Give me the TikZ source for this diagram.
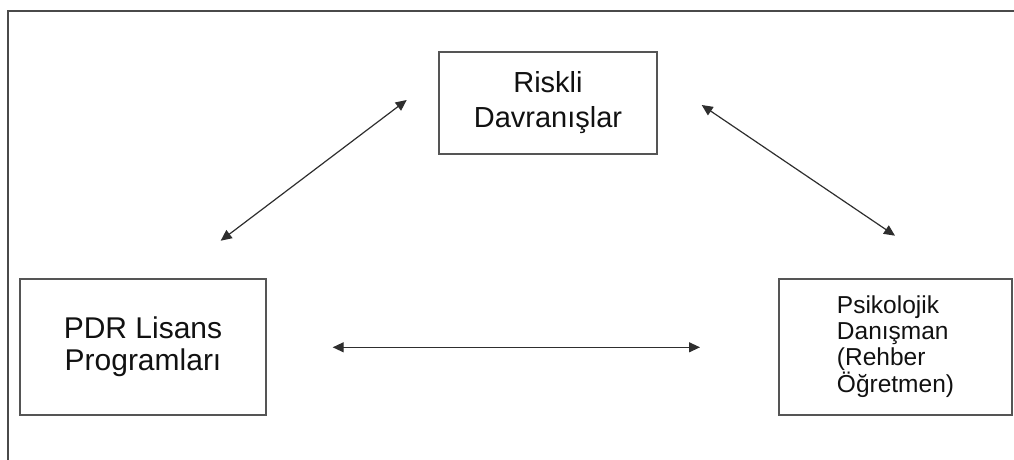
\documentclass[tikz,border=0pt]{standalone}
\usepackage{fontspec}
\setmainfont{Liberation Sans}
\usetikzlibrary{arrows.meta}
\definecolor{framegray}{HTML}{4A4A4A}
\definecolor{boxgray}{HTML}{555555}
\definecolor{linegray}{HTML}{2E2E2E}
\definecolor{textgray}{HTML}{111111}
\begin{document}
\begin{tikzpicture}[x=1pt,y=-1pt,
  box/.style={draw=boxgray,line width=1.3pt,inner sep=0pt,text=textgray},
  link/.style={draw=linegray,line width=1.2pt,
    {Triangle[length=11pt,width=10pt]}-{Triangle[length=11pt,width=10pt]}},
  framestyle/.style={draw=framegray,line width=2pt}]
\useasboundingbox (0,0) rectangle (1014,460);
% outer frame
\draw[framestyle] (8,461) -- (8,11) -- (1015,11);
% boxes
\node[box,minimum width=218pt,minimum height=102pt,align=center,
  font=\fontsize{29}{35}\selectfont] (risk) at (548,103) {Riskli\\Davranışlar};
\node[box,minimum width=246pt,minimum height=136pt,align=center,
  font=\fontsize{30}{32}\selectfont] (pdr) at (143,347) {PDR Lisans\\Programları};
\node[box,minimum width=233pt,minimum height=136pt,
  font=\fontsize{24.5}{28}\selectfont] (psik) at (895.5,347)
  {\begin{tabular}{@{}l@{}}Psikolojik\\[-2pt]Danışman\\[-2pt](Rehber\\[-2pt]Öğretmen)\end{tabular}};
% arrow end points
\coordinate (a1) at (220.7,240.7);
\coordinate (a2) at (406.7,100);
\coordinate (b1) at (701.7,105);
\coordinate (b2) at (895,235.7);
\coordinate (c1) at (332.7,347.3);
\coordinate (c2) at (700,347.3);
\draw[link] (a1) -- (a2);
\draw[link] (b1) -- (b2);
\draw[link] (c1) -- (c2);
\end{tikzpicture}
\end{document}
